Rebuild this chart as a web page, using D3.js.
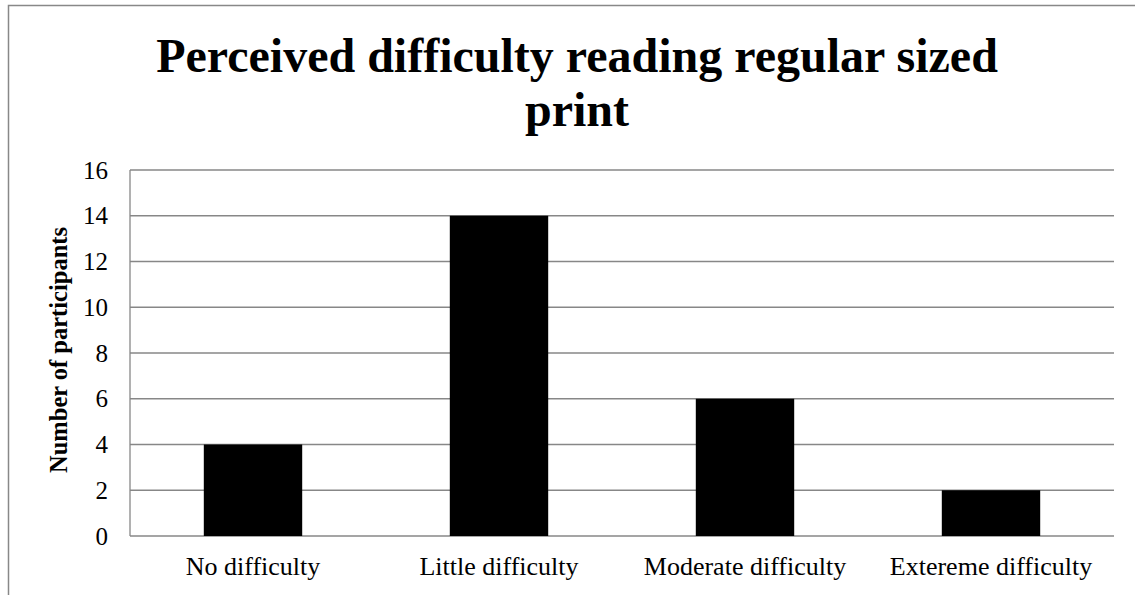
<!DOCTYPE html>
<html><head><meta charset="utf-8">
<script src="https://cdn.jsdelivr.net/npm/d3@7"></script>
<style>html,body{margin:0;padding:0;background:#fff;overflow:hidden;}svg{display:block;}</style>
</head><body>
<svg id="chart" width="1135" height="595"></svg>
<script>
const categories = ["No difficulty", "Little difficulty", "Moderate difficulty", "Extereme difficulty"];
const values = [4, 14, 6, 2];
const yTicks = [0, 2, 4, 6, 8, 10, 12, 14, 16];
const titleLines = ["Perceived difficulty reading regular sized", "print"];
const yTitle = "Number of participants";

const svg = d3.select("#chart");
const font = "'Liberation Serif','Times New Roman',serif";
const grid = "#878787";

// outer chart border (only top and left visible in the frame)
svg.append("path").attr("d", "M8.5,595V5.5H1135")
  .attr("fill", "none").attr("stroke", "#888").attr("stroke-width", 1.5);

const L = 130, R = 1114, T = 170, B = 536;
const x = d3.scaleBand().domain(categories).range([L, R]).paddingInner(0.6).paddingOuter(0.3);
const y = d3.scaleLinear().domain([0, 16]).range([B, T]);

// gridlines
svg.append("g").selectAll("line").data(yTicks).join("line")
  .attr("x1", L).attr("x2", R).attr("y1", d => y(d)).attr("y2", d => y(d))
  .attr("stroke", grid).attr("stroke-width", 1.3);

// axis line left
svg.append("line").attr("x1", L).attr("x2", L).attr("y1", T).attr("y2", B)
  .attr("stroke", grid).attr("stroke-width", 1.3);

// bars
svg.append("g").selectAll("rect").data(values).join("rect")
  .attr("x", (d, i) => x(categories[i])).attr("width", x.bandwidth())
  .attr("y", d => y(d)).attr("height", d => B - y(d)).attr("fill", "#000");

// y axis labels
const yAxis = svg.append("g").attr("transform", `translate(${L},0)`)
  .call(d3.axisLeft(y).tickValues(yTicks).tickSize(0).tickPadding(22));
yAxis.select(".domain").remove();
yAxis.selectAll("text").attr("font-family", font).attr("font-size", 25).attr("fill", "#000");

// x axis labels
const xAxis = svg.append("g").attr("transform", `translate(0,${B})`)
  .call(d3.axisBottom(x).tickSize(0));
xAxis.select(".domain").remove();
xAxis.selectAll("text").attr("font-family", font).attr("font-size", 26).attr("fill", "#000")
  .attr("dy", null).attr("y", 39);

// title
svg.append("text").attr("text-anchor", "middle")
  .attr("font-family", font).attr("font-weight", "bold").attr("font-size", 48)
  .selectAll("tspan").data(titleLines).join("tspan")
  .attr("x", 577).attr("y", (d, i) => 72 + i * 54).text(d => d);

// y title
svg.append("text").attr("transform", `translate(67,350) rotate(-90)`)
  .attr("text-anchor", "middle").attr("font-family", font).attr("font-weight", "bold")
  .attr("font-size", 24.5).text(yTitle);
</script>
</body></html>
